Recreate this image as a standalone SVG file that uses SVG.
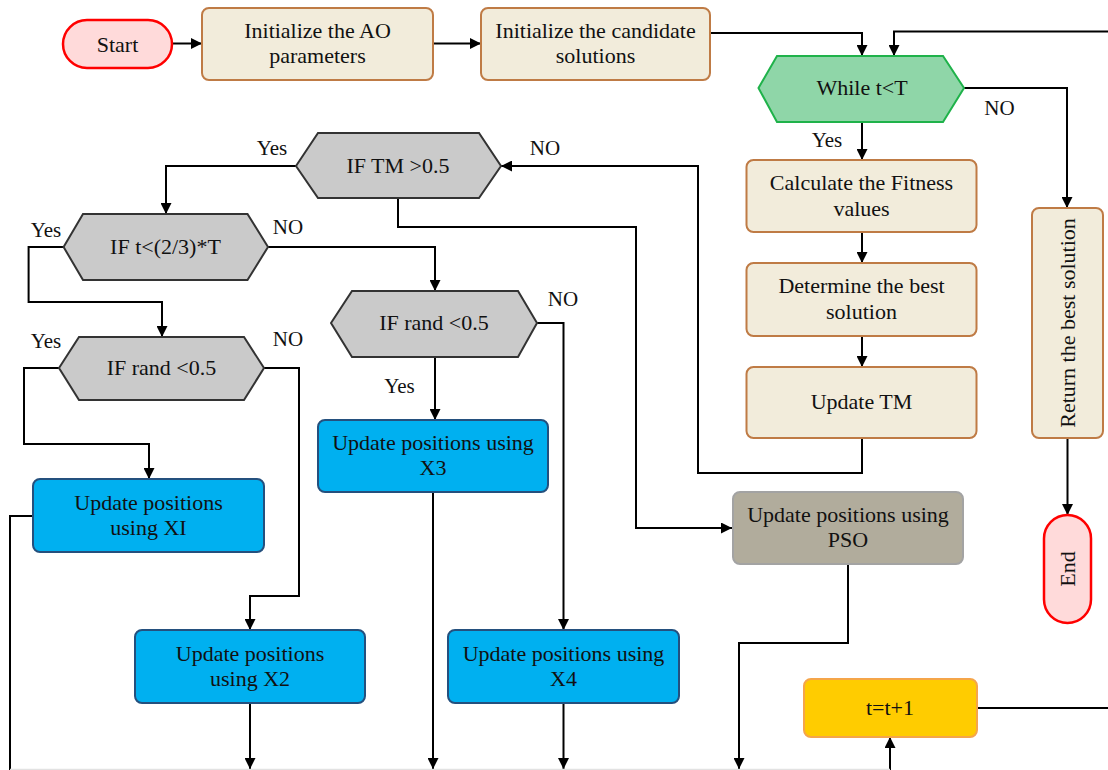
<svg xmlns="http://www.w3.org/2000/svg" width="1108" height="770" viewBox="0 0 1108 770">
<style>
text{font-family:"Liberation Serif","Times New Roman",serif;font-size:22px;fill:#111;text-anchor:middle}
.lbl{font-size:21px}
.beige{fill:#F2ECDB;stroke:#BF7B45;stroke-width:2}
.blue{fill:#00B0F0;stroke:#24507E;stroke-width:2}
.gray{fill:#CACACA;stroke:#333;stroke-width:2}
.term{fill:#FFDADA;stroke:#FF0000;stroke-width:2.5}
.c{fill:none;stroke:#000;stroke-width:2}
.ca{fill:none;stroke:#000;stroke-width:2;marker-end:url(#ah)}
</style>
<defs>
<marker id="ah" viewBox="0 0 10 10" refX="10" refY="5" markerWidth="12" markerHeight="11" markerUnits="userSpaceOnUse" orient="auto"><path d="M0,0 L10,5 L0,10 z" fill="#000"/></marker>
</defs>
<rect width="1108" height="770" fill="#fff"/>
<g id="connectors">
<path class="ca" d="M172,43.5 H202"/>
<path class="ca" d="M433,43.5 H481"/>
<path class="ca" d="M710,33 H862 V56"/>
<path class="ca" d="M1108,31.5 H894 V56"/>
<path class="ca" d="M862,122 V160"/>
<path class="ca" d="M964,88 H1067 V208"/>
<path class="ca" d="M862,232 V263"/>
<path class="ca" d="M862,336 V367"/>
<path class="ca" d="M862,438 V473 H698 V166 H501"/>
<path class="ca" d="M296,166 H166 V214"/>
<path class="ca" d="M398,198 V227 H636 V528 H732"/>
<path class="ca" d="M63.6,247 H28.6 V302 H162 V337"/>
<path class="ca" d="M268,247 H435 V291"/>
<path class="ca" d="M59,368 H24 V444 H149 V479"/>
<path class="ca" d="M264,368 H299 V596 H250 V630"/>
<path class="ca" d="M435,357 V420"/>
<path class="ca" d="M537,323 H563.5 V630"/>
<path class="c" d="M33,516 H10 V770"/>
<path class="ca" d="M250,703 V769"/>
<path class="ca" d="M433,492 V769"/>
<path class="ca" d="M563.5,703 V769"/>
<path class="ca" d="M848,564 V643 H739 V769"/>
<path class="ca" d="M890,770 V737"/>
<path class="c" d="M977,708 H1108"/>
<path class="ca" d="M1067.5,438 V515"/>
<path d="M10,769.5 H890" stroke="#E2E2E2" stroke-width="1.5" fill="none"/>
<text class="lbl" x="827" y="147">Yes</text>
<text class="lbl" x="999.5" y="115">NO</text>
<text class="lbl" x="272" y="155">Yes</text>
<text class="lbl" x="545" y="155">NO</text>
<text class="lbl" x="46" y="237">Yes</text>
<text class="lbl" x="288" y="234">NO</text>
<text class="lbl" x="46" y="348">Yes</text>
<text class="lbl" x="288" y="346">NO</text>
<text class="lbl" x="563" y="306">NO</text>
<text class="lbl" x="399.5" y="393">Yes</text>
</g>
<g id="start"><rect class="term" x="63" y="20" width="109" height="48" rx="24"/><text x="117.5" y="51.5">Start</text></g>
<g id="init-ao"><rect class="beige" x="202" y="8" width="231" height="72" rx="7"/><text x="317.5" y="38">Initialize the AO</text><text x="317.5" y="63">parameters</text></g>
<g id="init-cand"><rect class="beige" x="481" y="8" width="229" height="72" rx="7"/><text x="595.5" y="38">Initialize the candidate</text><text x="595.5" y="63">solutions</text></g>
<g id="while"><polygon points="758.5,88 777,56 943,56 964,88 943,122 777,122" fill="#8FD6A8" stroke="#1FB24A" stroke-width="2"/><text x="862" y="95">While t&lt;T</text></g>
<g id="calc"><rect class="beige" x="746.5" y="160" width="230" height="72" rx="7"/><text x="861.5" y="190">Calculate the Fitness</text><text x="861.5" y="216">values</text></g>
<g id="determine"><rect class="beige" x="746.5" y="263" width="230" height="73" rx="7"/><text x="861.5" y="293">Determine the best</text><text x="861.5" y="319">solution</text></g>
<g id="update-tm"><rect class="beige" x="746.5" y="367" width="230" height="71" rx="7"/><text x="861.5" y="409">Update TM</text></g>
<g id="return"><rect class="beige" x="1032" y="208" width="71" height="230" rx="7"/><text transform="translate(1075,323) rotate(-90)">Return the best solution</text></g>
<g id="end"><rect class="term" x="1044" y="515" width="47" height="108" rx="23.5"/><text transform="translate(1075,569) rotate(-90)">End</text></g>
<g id="if-tm"><polygon class="gray" points="296,166 318,133 479,133 501,166 479,198 318,198"/><text x="398" y="173">IF TM &gt;0.5</text></g>
<g id="if-t"><polygon class="gray" points="63.6,247 83,214 247.5,214 268,247 247.5,280 83,280"/><text x="165.5" y="254">IF t&lt;(2/3)*T</text></g>
<g id="if-rand-l"><polygon class="gray" points="59,368 79,337 244,337 264,368 244,400 79,400"/><text x="161.5" y="375">IF rand &lt;0.5</text></g>
<g id="if-rand-r"><polygon class="gray" points="331,323 352,291 518,291 537,323 518,357 352,357"/><text x="434" y="330">IF rand &lt;0.5</text></g>
<g id="x1"><rect class="blue" x="33" y="479" width="231" height="73" rx="7"/><text x="148.5" y="510">Update positions</text><text x="148.5" y="535">using XI</text></g>
<g id="x3"><rect class="blue" x="318" y="420" width="230" height="72" rx="7"/><text x="433" y="450">Update positions using</text><text x="433" y="475">X3</text></g>
<g id="x2"><rect class="blue" x="135" y="630" width="230" height="73" rx="7"/><text x="250" y="661">Update positions</text><text x="250" y="686">using X2</text></g>
<g id="x4"><rect class="blue" x="448" y="630" width="231" height="73" rx="7"/><text x="563.5" y="661">Update positions using</text><text x="563.5" y="686">X4</text></g>
<g id="pso"><rect x="733" y="492" width="230" height="72" rx="7" fill="#B1AC9C" stroke="#A3A3A3" stroke-width="2"/><text x="848" y="522">Update positions using</text><text x="848" y="547">PSO</text></g>
<g id="t-inc"><rect x="804" y="679" width="173" height="58" rx="7" fill="#FFCC00" stroke="#F5A54A" stroke-width="2"/><text x="890" y="715">t=t+1</text></g>
</svg>
